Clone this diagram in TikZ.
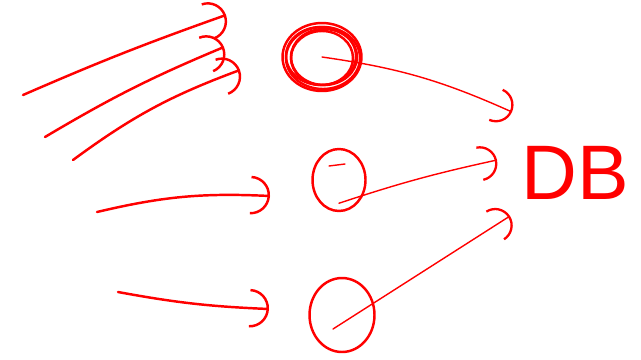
\documentclass[tikz,border=0pt]{standalone}
\usepackage{fontspec}
\setmainfont{Liberation Sans}
\usetikzlibrary{arrows.meta,shapes.geometric}

\tikzset{
  pen/.style={red,line width=1.4pt,line cap=round},
  thinpen/.style={red,line width=0.8pt,line cap=round},
  hand/.style={-{Arc Barb[length=11pt,width=22pt,line width=1.4pt]}},
  smallhand/.style={-{Arc Barb[length=10pt,width=20pt,line width=1.3pt]}},
  blob/.style={ellipse,draw,pen,inner sep=0pt},
}

\begin{document}
\begin{tikzpicture}[x=0.02cm,y=-0.02cm]
  \useasboundingbox (0,0) rectangle (641,359);

  % the three round things
  \node[blob,minimum width=1.58cm,minimum height=1.36cm] (app1) at (322,57) {};
  \draw[pen] (323,58) ellipse [x radius=37,y radius=31];
  \draw[pen] (321,56) ellipse [x radius=35,y radius=29];
  \draw[pen] (324,57) ellipse [x radius=33,y radius=28];
  \draw[pen] (322,58) ellipse [x radius=31,y radius=27];
  \node[blob,minimum width=1.06cm,minimum height=1.24cm] (app2) at (339,180) {};
  \node[blob,minimum width=1.3cm,minimum height=1.48cm] (app3) at (342,315) {};
  \draw[thinpen] (329,166) -- (345,164);
  \node[red,font=\fontsize{44}{44}\selectfont] (db) at (575,173) {DB};

  % loose ends of the incoming strokes
  \coordinate (in1) at (23,95);
  \coordinate (in1tip) at (226,15);
  \coordinate (in2) at (45,137);
  \coordinate (in2tip) at (224,47);
  \coordinate (in3) at (73,160);
  \coordinate (in3tip) at (240,70);
  \coordinate (in4) at (97,212);
  \coordinate (in4tip) at (270,196);
  \coordinate (in5) at (118,292);
  \coordinate (in5tip) at (269,309);
  \coordinate (out1tip) at (512,112);
  \coordinate (out2tip) at (497,160);
  \coordinate (out3tip) at (510,216);

  \draw[pen,hand] (in1) to[bend left=2] (in1tip);
  \draw[pen,hand] (in2) to[bend left=4] (in2tip);
  \draw[pen,hand] (in3) to[bend left=8] (in3tip);
  \draw[pen,hand] (in4) to[bend left=8] (in4tip);
  \draw[pen,hand] (in5) to[bend right=4] (in5tip);

  \draw[thinpen,smallhand] (app1.center) to[bend left=8] (out1tip);
  \draw[thinpen,smallhand] (app2.south) ++(0,-9) to[bend left=3] (out2tip);
  \draw[thinpen,smallhand] (app3.center) ++(-9,14) -- (out3tip);
\end{tikzpicture}
\end{document}
